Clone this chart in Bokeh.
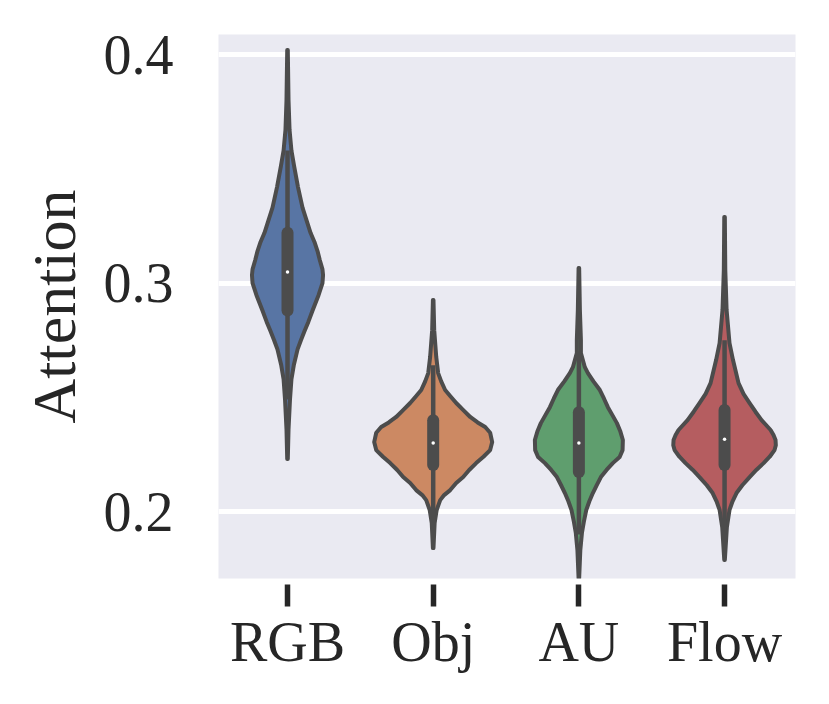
from bokeh.plotting import figure
from bokeh.models import FixedTicker, Range1d
from bokeh.embed import file_html
from bokeh.resources import INLINE

names=['RGB','Obj','AU','Flow']
colors=['#5875a4','#cc8963','#5f9e6e','#b55d60']
yticks=[0.2,0.3,0.4]

# attention value and half width of each violin
rgb_y=[.402,.380,.367,.358,.351,.342,.333,.327,.322,.318,.314,.310,.306,.3035,.300,.2947,.288,.283,.279,.275,.271,.264,.258,.249,.236,.223]
rgb_w=[.002,.007,.014,.027,.046,.072,.103,.133,.158,.185,.206,.222,.240,.244,.240,.213,.172,.143,.117,.092,.069,.043,.027,.017,.007,.002]
obj_y=[.2926,.2794,.2676,.2606,.257,.2532,.2505,.2475,.2445,.2414,.2390,.2370,.2345,.2304,.2269,.2240,.2212,.2182,.2151,.2125,.2094,.2072,.2050,.2007,.195,.184]
obj_w=[.002,.007,.021,.034,.055,.082,.118,.158,.205,.254,.305,.357,.391,.405,.391,.345,.295,.247,.206,.158,.117,.075,.048,.024,.010,.002]
au_y=[.3066,.2882,.2751,.2694,.2632,.2606,.2570,.2532,.2495,.2457,.2422,.2387,.2350,.2313,.2269,.2239,.2212,.2182,.2151,.2115,.2081,.2045,.2007,.1955,.1906,.1832,.1709]
au_w=[.002,.007,.014,.014,.041,.062,.100,.144,.172,.199,.230,.261,.285,.302,.300,.280,.233,.190,.151,.122,.096,.072,.051,.034,.021,.010,.002]
flow_y=[.3289,.3057,.2882,.2737,.2663,.2562,.2515,.2475,.2437,.2400,.2357,.2335,.2313,.2290,.2269,.2240,.2212,.2182,.2151,.2115,.2081,.2045,.2007,.1932,.1788]
flow_w=[.002,.005,.014,.034,.058,.096,.130,.172,.212,.254,.316,.336,.350,.352,.343,.310,.268,.218,.172,.122,.082,.055,.034,.016,.002]
violin_y=[rgb_y,obj_y,au_y,flow_y]
violin_w=[rgb_w,obj_w,au_w,flow_w]

q1=[.288,.2204,.2173,.2204]
q3=[.322,.240,.2435,.2444]
med=[.3048,.230,.230,.2317]
whisk_lo=[.249,.195,.190,.190]
whisk_hi=[.358,.264,.270,.275]
pos=[0,1,2,3]

p=figure(frame_width=577,frame_height=544,min_border_left=218,min_border_top=34,
         min_border_right=10,min_border_bottom=95,
         x_range=Range1d(-.4737,3.487),y_range=Range1d(.1707,.4088),
         toolbar_location=None,output_backend='svg')
p.background_fill_color='#eaeaf2'
p.outline_line_color=None
p.xgrid.visible=False
p.ygrid.ticker=FixedTicker(ticks=yticks)
p.ygrid.grid_line_color='white'
p.ygrid.grid_line_width=5

for i in pos:
    xs=[i-w for w in violin_w[i]]+[i+w for w in violin_w[i][::-1]]
    ys=violin_y[i]+violin_y[i][::-1]
    p.patch(xs,ys,fill_color=colors[i],line_color='#4c4c4c',line_width=4,line_join='round')
p.segment(pos,whisk_lo,pos,whisk_hi,line_color='#4c4c4c',line_width=4.5)
p.segment(pos,q1,pos,q3,line_color='#4c4c4c',line_width=12,line_cap='round')
p.scatter(pos,med,marker='circle',size=3.5,fill_color='white',line_color=None)

p.xaxis.ticker=FixedTicker(ticks=pos)
p.xaxis.major_label_overrides={i:n for i,n in zip(pos,names)}
p.xaxis.axis_line_color=None
p.xaxis.minor_tick_line_color=None
p.xaxis.major_tick_line_color='#262626'
p.xaxis.major_tick_line_width=5.5
p.xaxis.major_tick_in=-6
p.xaxis.major_tick_out=28
p.xaxis.major_label_standoff=4
p.xaxis.major_label_text_font='Liberation Serif'
p.xaxis.major_label_text_font_size='56px'
p.xaxis.major_label_text_color='#262626'

p.yaxis.ticker=FixedTicker(ticks=yticks)
p.yaxis.axis_line_color=None
p.yaxis.minor_tick_line_color=None
p.yaxis.major_tick_line_color=None
p.yaxis.major_tick_in=0
p.yaxis.major_tick_out=0
p.yaxis.major_label_standoff=45
p.yaxis.major_label_text_font='Liberation Serif'
p.yaxis.major_label_text_font_size='56px'
p.yaxis.major_label_text_color='#262626'
p.yaxis.axis_label='Attention'
p.yaxis.axis_label_text_font='Liberation Serif'
p.yaxis.axis_label_text_font_style='normal'
p.yaxis.axis_label_text_font_size='62px'
p.yaxis.axis_label_text_color='#262626'
p.yaxis.axis_label_standoff=13

open('out.html','w').write(file_html(p,INLINE))
